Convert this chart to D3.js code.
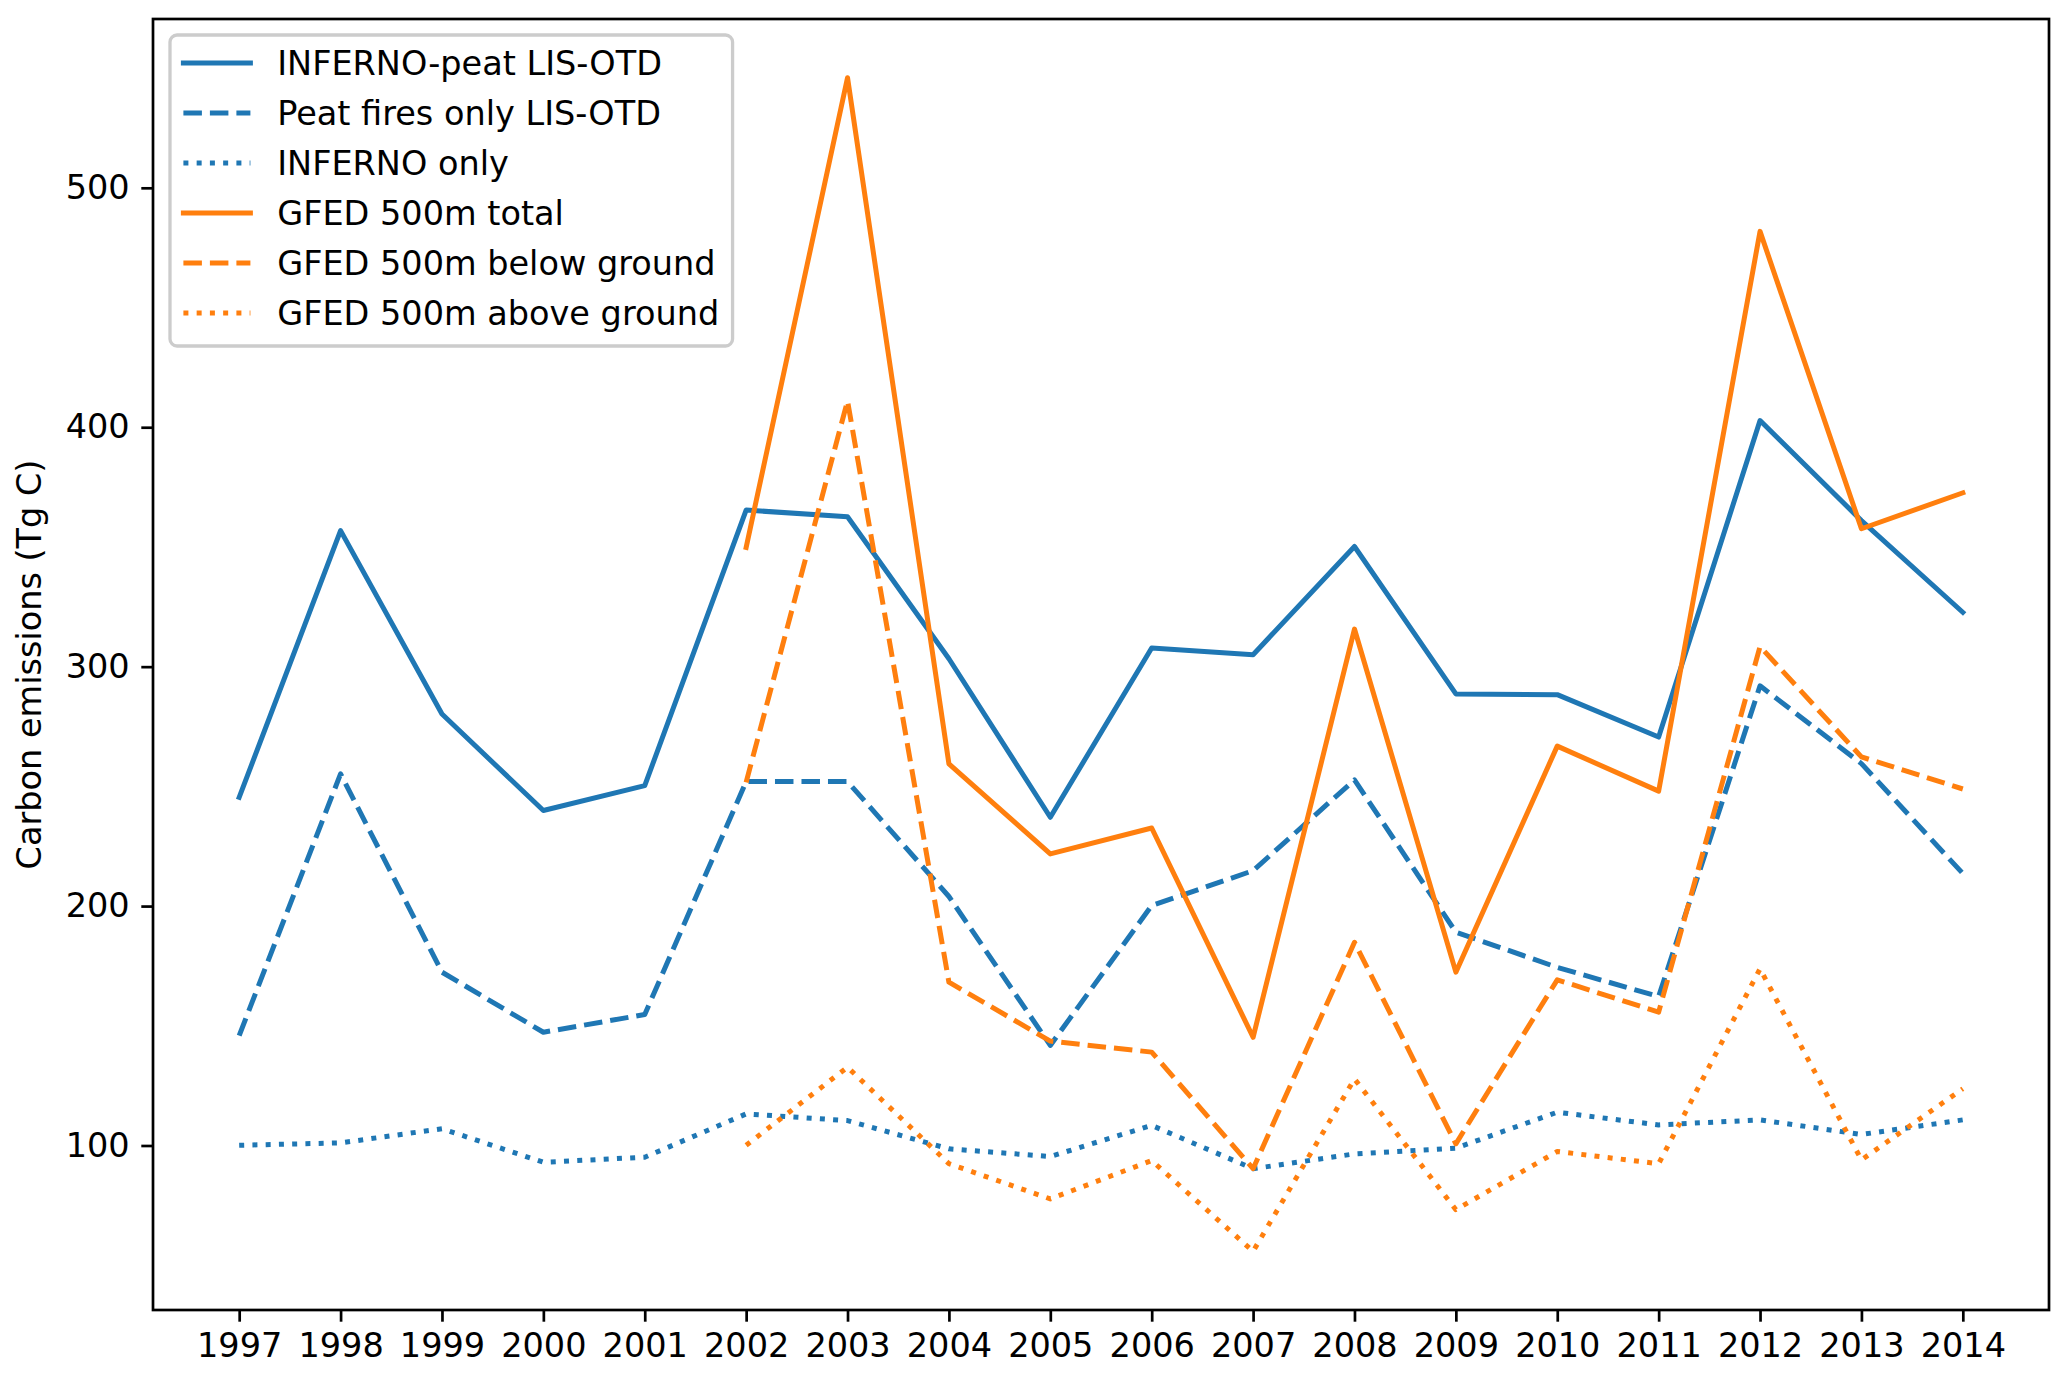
<!DOCTYPE html>
<html>
<head>
<meta charset="utf-8">
<script src="https://cdn.jsdelivr.net/npm/d3@7/dist/d3.min.js"></script>
<style>
  html, body { margin: 0; padding: 0; background: #ffffff; }
  svg { display: block; }
  text { font-family: "DejaVu Sans", sans-serif; }
</style>
</head>
<body>
<svg id="chart" width="2067" height="1378"></svg>
<script>
// ---------------- data ----------------
const years = [1997, 1998, 1999, 2000, 2001, 2002, 2003, 2004, 2005, 2006, 2007, 2008, 2009, 2010, 2011, 2012, 2013, 2014];
const infernoPeatLisOtd = [245.4, 356.8, 280.2, 239.9, 250.3, 365.4, 362.6, 303.3, 237.1, 307.8, 305.0, 350.2, 288.6, 288.3, 270.6, 402.8, 361.0, 322.7];
const peatFiresOnlyLisOtd = [145.9, 255.2, 172.4, 147.3, 154.7, 252.0, 252.0, 204.0, 141.8, 200.2, 214.8, 252.7, 189.1, 174.4, 162.2, 292.0, 259.5, 213.6];
const infernoOnly = [100.1, 101.1, 107.0, 93.0, 95.1, 113.2, 110.4, 98.6, 95.4, 108.4, 90.3, 96.5, 98.9, 113.9, 108.6, 110.7, 104.6, 110.7];
const gfedTotal = [null, null, null, null, null, 349.8, 546.0, 259.4, 221.8, 232.6, 145.2, 315.7, 172.4, 266.8, 248.0, 481.8, 357.6, 372.6];
const gfedBelow = [null, null, null, null, null, 251.7, 411.0, 168.2, 143.6, 139.0, 90.3, 184.9, 100.7, 169.2, 155.7, 308.4, 262.3, 248.9];
const gfedAbove = [null, null, null, null, null, 100.1, 132.7, 92.4, 77.7, 93.7, 55.8, 127.8, 73.2, 97.5, 92.4, 173.8, 94.0, 123.7];
const seriesLabels = ["INFERNO-peat LIS-OTD", "Peat fires only LIS-OTD", "INFERNO only", "GFED 500m total", "GFED 500m below ground", "GFED 500m above ground"];
const yTicks = [100, 200, 300, 400, 500];
const yLabel = "Carbon emissions (Tg C)";

// ---------------- layout ----------------
const W = 2067, H = 1378;
const plot = { left: 153, right: 2049, top: 19, bottom: 1310 };
const FS = 33.5;          // font size px
const LW = 5;             // line width px
const BLUE = "#1f77b4", ORANGE = "#ff7f0e";
const DASH = [3.7 * LW, 1.6 * LW].join(",");
const DOT = [1 * LW, 1.65 * LW].join(",");

const series = [
  { label: seriesLabels[0], values: infernoPeatLisOtd, color: BLUE, dash: null },
  { label: seriesLabels[1], values: peatFiresOnlyLisOtd, color: BLUE, dash: DASH },
  { label: seriesLabels[2], values: infernoOnly, color: BLUE, dash: DOT },
  { label: seriesLabels[3], values: gfedTotal, color: ORANGE, dash: null },
  { label: seriesLabels[4], values: gfedBelow, color: ORANGE, dash: DASH },
  { label: seriesLabels[5], values: gfedAbove, color: ORANGE, dash: DOT },
];

const svg = d3.select("#chart");

// scales (matplotlib-style 5% margins)
const xMin = d3.min(years), xMax = d3.max(years);
const xPad = (xMax - xMin) * 0.05;
const x = d3.scaleLinear().domain([xMin - xPad, xMax + xPad]).range([plot.left, plot.right]);

const allVals = series.flatMap(s => s.values.filter(v => v != null));
const yMin = d3.min(allVals), yMax = d3.max(allVals);
const yPad = (yMax - yMin) * 0.05;
const y = d3.scaleLinear().domain([yMin - yPad, yMax + yPad]).range([plot.bottom, plot.top]);

// ---------------- lines ----------------
const lineGen = d3.line()
  .defined(d => d.v != null)
  .x(d => x(d.year))
  .y(d => y(d.v));

const gLines = svg.append("g");
series.forEach(s => {
  const pts = years.map((yr, i) => ({ year: yr, v: s.values[i] }));
  gLines.append("path")
    .attr("d", lineGen(pts))
    .attr("fill", "none")
    .attr("stroke", s.color)
    .attr("stroke-width", LW)
    .attr("stroke-linejoin", "round")
    .attr("stroke-linecap", s.dash ? "butt" : "square")
    .attr("stroke-dasharray", s.dash);
});

// ---------------- axes ----------------
const TICK = 11.7, PAD = 11.7, AXW = 2.7;

const xAxis = d3.axisBottom(x).tickValues(years).tickFormat(d3.format("d")).tickSize(TICK).tickPadding(PAD);
const gx = svg.append("g").attr("transform", `translate(0,${plot.bottom})`).call(xAxis);
gx.select(".domain").remove();
gx.selectAll(".tick line").attr("stroke", "#000").attr("stroke-width", AXW);
gx.selectAll(".tick text").attr("font-size", FS).attr("fill", "#000").attr("font-family", "DejaVu Sans");

const yAxis = d3.axisLeft(y).tickValues(yTicks).tickFormat(d3.format("d")).tickSize(TICK).tickPadding(PAD);
const gy = svg.append("g").attr("transform", `translate(${plot.left},0)`).call(yAxis);
gy.select(".domain").remove();
gy.selectAll(".tick line").attr("stroke", "#000").attr("stroke-width", AXW);
gy.selectAll(".tick text").attr("font-size", FS).attr("fill", "#000").attr("font-family", "DejaVu Sans");

// frame (spines)
svg.append("rect")
  .attr("x", plot.left).attr("y", plot.top)
  .attr("width", plot.right - plot.left).attr("height", plot.bottom - plot.top)
  .attr("fill", "none").attr("stroke", "#000").attr("stroke-width", AXW);

// y label
svg.append("text")
  .attr("transform", `translate(41,${(plot.top + plot.bottom) / 2}) rotate(-90)`)
  .attr("text-anchor", "middle")
  .attr("font-size", FS)
  .attr("fill", "#000")
  .text(yLabel);

// ---------------- legend ----------------
const legX = 170, legY = 35, rowH = 50, firstRow = 63;
const handleX0 = legX + 0.4 * FS, handleLen = 2 * FS;
const textX = handleX0 + handleLen + 0.8 * FS;
const gLeg = svg.append("g");
const frame = gLeg.append("rect");
let maxW = 0;
series.forEach((s, i) => {
  const cy = firstRow + i * rowH;
  gLeg.append("line")
    .attr("x1", handleX0).attr("x2", handleX0 + handleLen)
    .attr("y1", cy).attr("y2", cy)
    .attr("stroke", s.color).attr("stroke-width", LW)
    .attr("stroke-linecap", s.dash ? "butt" : "square")
    .attr("stroke-dasharray", s.dash);
  const t = gLeg.append("text")
    .attr("x", textX).attr("y", cy).attr("dy", "0.36em")
    .attr("font-size", FS).attr("fill", "#000")
    .text(s.label);
  maxW = Math.max(maxW, t.node().getComputedTextLength());
});
const legW = textX + maxW + 0.4 * FS - legX;
const legH = 346 - legY;
frame.attr("x", legX).attr("y", legY).attr("width", legW).attr("height", legH)
  .attr("rx", 7).attr("ry", 7)
  .attr("fill", "#ffffff").attr("fill-opacity", 0.8)
  .attr("stroke", "#cccccc").attr("stroke-width", 3.3);
</script>
</body>
</html>
